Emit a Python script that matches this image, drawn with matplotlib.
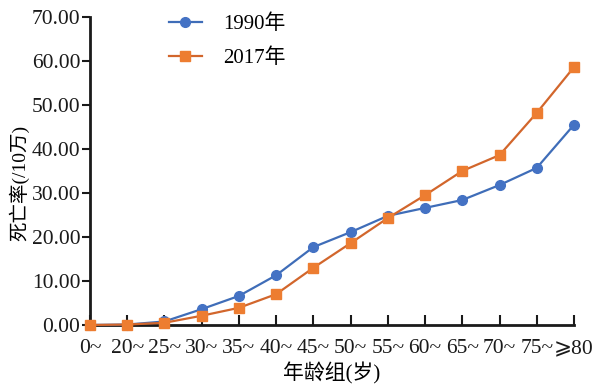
import matplotlib
matplotlib.use("Agg")
import matplotlib.pyplot as plt

categories = ["0~", "20~", "25~", "30~", "35~", "40~", "45~", "50~", "55~",
              "60~", "65~", "70~", "75~", "⩾80"]
rate_1990 = [0.0, 0.1, 0.8, 3.6, 6.6, 11.3, 17.7, 21.1, 24.8, 26.6, 28.4, 31.8, 35.7, 45.5]
rate_2017 = [0.0, 0.1, 0.5, 2.1, 3.9, 7.0, 13.0, 18.6, 24.3, 29.5, 35.0, 38.6, 48.2, 58.6]
series_labels = ["1990年", "2017年"]
yticks = [0, 10, 20, 30, 40, 50, 60, 70]

fam = ["Liberation Serif", "DejaVu Sans", "Noto Sans CJK SC"]
plt.rcParams["font.family"] = fam
plt.rcParams["font.size"] = 15

fig = plt.figure(figsize=(6.02, 3.88), dpi=100)
ax = fig.add_axes([0.1495, 0.1624, 0.804, 0.794])

x = list(range(len(categories)))
ax.plot(x, rate_1990, color="#3F6DB8", lw=1.6, marker="o", ms=7,
        markerfacecolor="#4472C4", markeredgecolor="#4472C4", label=series_labels[0], clip_on=False, zorder=3)
ax.plot(x, rate_2017, color="#D2662C", lw=1.6, marker="s", ms=7,
        markerfacecolor="#ED7D31", markeredgecolor="#ED7D31", label=series_labels[1], clip_on=False, zorder=3)

ax.set_xlim(0, len(categories) - 1)
ax.set_ylim(0, 70)
ax.set_yticks(yticks)
ax.set_yticklabels([f"{v:.2f}" for v in yticks])
ax.set_xticks(x)
ax.set_xticklabels(categories)

for s in ["top", "right"]:
    ax.spines[s].set_visible(False)
for s in ["left", "bottom"]:
    ax.spines[s].set_linewidth(2)
    ax.spines[s].set_color("#1a1a1a")

ax.tick_params(axis="y", direction="out", length=6, width=1.5, pad=1, labelsize=15.5, colors="#1a1a1a")
ax.tick_params(axis="x", direction="in", length=7, width=1.5, pad=10, labelsize=15.5, colors="#1a1a1a")

ax.set_ylabel("死亡率(/10万)", fontsize=14)
ax.yaxis.set_label_coords(-0.125, 0.46)
ax.set_xlabel("年龄组(岁)", fontsize=15, labelpad=3)

leg = ax.legend(loc="upper left", bbox_to_anchor=(0.145, 1.035), frameon=False,
                handlelength=1.6, handletextpad=1.0, labelspacing=0.7, fontsize=15, borderaxespad=0)

fig.savefig("out.png", dpi=100)
